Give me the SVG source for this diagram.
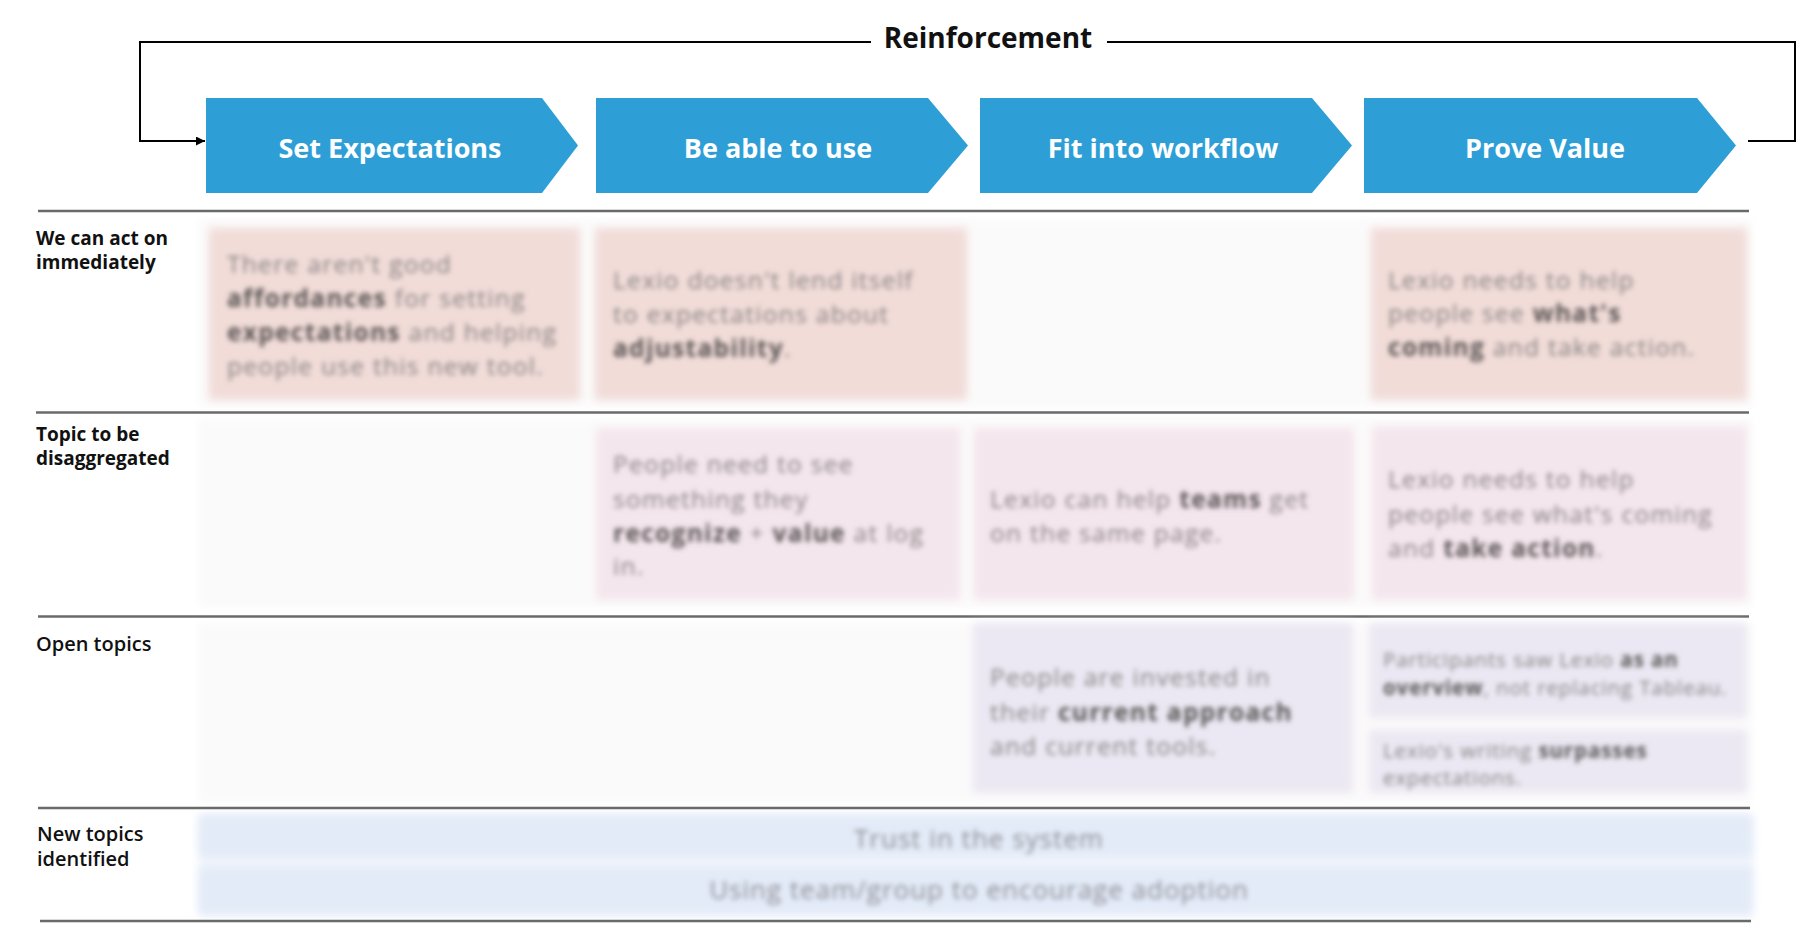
<svg xmlns="http://www.w3.org/2000/svg" width="1797" height="942" viewBox="0 0 1797 942">
<style>
.chev{fill:#2e9fd6}
.chevt{font-family:"Open Sans","Liberation Sans",sans-serif;font-weight:700;font-size:27px;fill:#fff;text-anchor:middle}
.title{font-family:"Open Sans","Liberation Sans",sans-serif;font-weight:700;font-size:28px;fill:#111;text-anchor:middle}
.rowl{font-family:"Open Sans","Liberation Sans",sans-serif;font-weight:700;font-size:19px;fill:#111}
.rowl2{font-family:"Open Sans","Liberation Sans",sans-serif;font-weight:600;font-size:20px;fill:#111}
.sep{stroke:#6a6a6a;stroke-width:2.6;fill:none}
.conn{stroke:#000;stroke-width:2;fill:none}
.c1{fill:#f1dcd8}
.c2{fill:#f4e6ed}
.c3{fill:#ebe8f3}
.c4{fill:#e3ebf8}
.bg{fill:#fbfafa}
.ct{font-family:"Open Sans","Liberation Sans",sans-serif;font-size:24.5px;letter-spacing:1.3px;fill:#858080}
.cs{font-family:"Open Sans","Liberation Sans",sans-serif;font-size:20.5px;letter-spacing:0.9px;fill:#858080}
.cc{font-family:"Open Sans","Liberation Sans",sans-serif;font-size:26px;letter-spacing:1px;fill:#8e8e94;text-anchor:middle}
.b{font-weight:700;fill:#5a5454}
.blur{filter:url(#bl)}
.soft{filter:url(#sf)}
</style>
<defs>
<filter id="bl" x="-5%" y="-20%" width="110%" height="140%"><feGaussianBlur stdDeviation="2.6"/></filter>
<filter id="sf" x="-5%" y="-10%" width="110%" height="120%"><feGaussianBlur stdDeviation="4"/></filter>
<marker id="ah" viewBox="0 0 10 10" refX="10" refY="5" markerWidth="9" markerHeight="9" markerUnits="userSpaceOnUse" orient="auto"><path d="M0,0 L10,5 L0,10 z" fill="#000"/></marker>
</defs>
<rect width="1797" height="942" fill="#fff"/>

<g id="connectors">
<path class="conn" d="M1748,141 H1795 V42 H1107"/>
<path class="conn" d="M871,42 H140 V141 H205" marker-end="url(#ah)"/>
</g>
<text id="reinforcement" class="title" x="988" y="48">Reinforcement</text>

<g id="stage-set-expectations">
<path class="chev" d="M206,98 H542 L578,145.5 L542,193 H206 Z"/>
<text class="chevt" x="390" y="158">Set Expectations</text>
</g>
<g id="stage-be-able-to-use">
<path class="chev" d="M596,98 H928 L968,145.5 L928,193 H596 Z"/>
<text class="chevt" x="778" y="158">Be able to use</text>
</g>
<g id="stage-fit-into-workflow">
<path class="chev" d="M980,98 H1312 L1352,145.5 L1312,193 H980 Z"/>
<text class="chevt" x="1163" y="158">Fit into workflow</text>
</g>
<g id="stage-prove-value">
<path class="chev" d="M1364,98 H1697 L1736,145.5 L1697,193 H1364 Z"/>
<text class="chevt" x="1545" y="158">Prove Value</text>
</g>

<g id="backgrounds" class="soft">
<rect class="bg" x="198" y="219" width="1554" height="188"/>
<rect class="bg" x="198" y="419" width="1554" height="188"/>
<rect class="bg" x="198" y="623" width="1554" height="180"/>
<rect fill="#eef3fb" x="198" y="813" width="1556" height="104"/>
</g>

<g id="separators">
<line class="sep" x1="38" y1="211" x2="1749" y2="211"/>
<line class="sep" x1="36" y1="412.5" x2="1749" y2="412.5"/>
<line class="sep" x1="38" y1="616.5" x2="1749" y2="616.5"/>
<line class="sep" x1="38" y1="808" x2="1750" y2="808"/>
<line class="sep" x1="40" y1="921" x2="1751" y2="921"/>
</g>

<g id="row-labels">
<text class="rowl" x="36" y="245">We can act on</text>
<text class="rowl" x="36" y="269">immediately</text>
<text class="rowl" x="36" y="441">Topic to be</text>
<text class="rowl" x="36" y="465">disaggregated</text>
<text class="rowl2" x="36" y="651">Open topics</text>
<text class="rowl2" x="37" y="841">New topics</text>
<text class="rowl2" x="37" y="866">identified</text>
</g>

<g id="card-r1c1">
<rect class="c1 soft" x="209" y="228" width="371" height="172"/>
<g class="blur">
<text class="ct" x="227" y="273">There aren't good</text>
<text class="ct" x="227" y="307"><tspan class="b">affordances</tspan> for setting</text>
<text class="ct" x="227" y="341"><tspan class="b">expectations</tspan> and helping</text>
<text class="ct" x="227" y="375">people use this new tool.</text>
</g>
</g>
<g id="card-r1c2">
<rect class="c1 soft" x="595" y="228" width="372" height="172"/>
<g class="blur">
<text class="ct" x="613" y="289">Lexio doesn't lend itself</text>
<text class="ct" x="613" y="323">to expectations about</text>
<text class="ct" x="613" y="357"><tspan class="b">adjustability</tspan>.</text>
</g>
</g>
<g id="card-r1c4">
<rect class="c1 soft" x="1371" y="228" width="376" height="172"/>
<g class="blur">
<text class="ct" x="1388" y="289">Lexio needs to help</text>
<text class="ct" x="1388" y="322">people see <tspan class="b">what's</tspan></text>
<text class="ct" x="1388" y="356"><tspan class="b">coming</tspan> and take action.</text>
</g>
</g>

<g id="card-r2c2">
<rect class="c2 soft" x="596" y="428" width="364" height="172"/>
<g class="blur">
<text class="ct" x="613" y="473">People need to see</text>
<text class="ct" x="613" y="508">something they</text>
<text class="ct" x="613" y="542"><tspan class="b">recognize</tspan> + <tspan class="b">value</tspan> at log</text>
<text class="ct" x="613" y="575">in.</text>
</g>
</g>
<g id="card-r2c3">
<rect class="c2 soft" x="974" y="428" width="380" height="172"/>
<g class="blur">
<text class="ct" x="990" y="508">Lexio can help <tspan class="b">teams</tspan> get</text>
<text class="ct" x="990" y="542">on the same page.</text>
</g>
</g>
<g id="card-r2c4">
<rect class="c2 soft" x="1372" y="426" width="375" height="174"/>
<g class="blur">
<text class="ct" x="1388" y="488">Lexio needs to help</text>
<text class="ct" x="1388" y="523">people see what's coming</text>
<text class="ct" x="1388" y="557">and <tspan class="b">take action</tspan>.</text>
</g>
</g>

<g id="card-r3c3">
<rect class="c3 soft" x="973" y="623" width="380" height="170"/>
<g class="blur">
<text class="ct" x="990" y="686">People are invested in</text>
<text class="ct" x="990" y="721">their <tspan class="b">current approach</tspan></text>
<text class="ct" x="990" y="755">and current tools.</text>
</g>
</g>
<g id="card-r3c4a">
<rect class="c3 soft" x="1369" y="623" width="378" height="95"/>
<g class="blur">
<text class="cs" x="1383" y="667">Participants saw Lexio <tspan class="b">as an</tspan></text>
<text class="cs" x="1383" y="695"><tspan class="b">overview</tspan>, not replacing Tableau.</text>
</g>
</g>
<g id="card-r3c4b">
<rect class="c3 soft" x="1369" y="730" width="378" height="63"/>
<g class="blur">
<text class="cs" x="1383" y="758">Lexio's writing <tspan class="b">surpasses</tspan></text>
<text class="cs" x="1383" y="785">expectations.</text>
</g>
</g>

<g id="card-r4a">
<rect class="c4 soft" x="200" y="816" width="1551" height="40"/>
<text class="cc blur" x="979" y="848">Trust in the system</text>
</g>
<g id="card-r4b">
<rect class="c4 soft" x="200" y="868" width="1551" height="45"/>
<text class="cc blur" x="979" y="899">Using team/group to encourage adoption</text>
</g>
</svg>
